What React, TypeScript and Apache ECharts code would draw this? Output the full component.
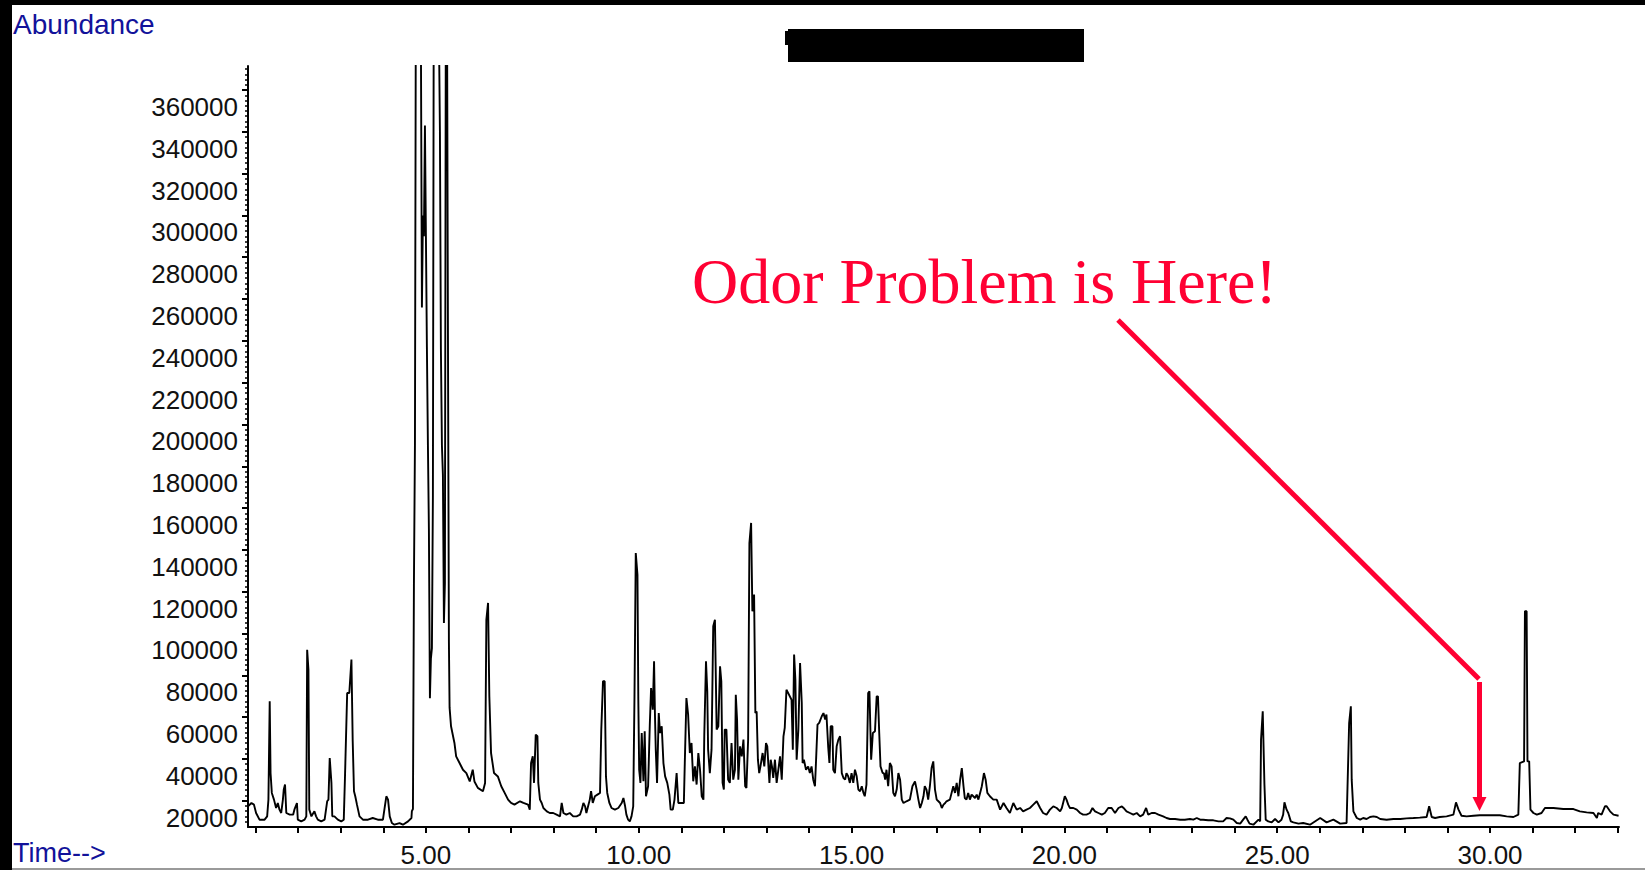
import React, { useEffect, useRef } from "react";
import * as echarts from "echarts";

// ---- Axis description ----
const timeMin = 0.82;
const timeMax = 33.03;
const abundanceMin = 7400;
const abundanceMax = 371500;
const xTickMinutes = [1, 2, 3, 4, 5, 6, 7, 8, 9, 10, 11, 12, 13, 14, 15, 16, 17, 18, 19, 20, 21, 22, 23, 24, 25, 26, 27, 28, 29, 30, 31, 32, 33];
const xLabelMinutes = [5, 10, 15, 20, 25, 30];
const yLabelValues = [20000, 40000, 60000, 80000, 100000, 120000, 140000, 160000, 180000, 200000, 220000, 240000, 260000, 280000, 300000, 320000, 340000, 360000];

// ---- Chromatogram trace, [retention time (min), abundance] ----
const traceEarly: [number, number][] = [
  [0.82, 17300], [0.9, 18900], [0.96, 18100], [1.01, 14100], [1.09, 10900], [1.21, 10900], [1.27, 12500], [1.3, 20500],
  [1.33, 67500], [1.35, 33200], [1.38, 23700], [1.43, 20500], [1.48, 16500], [1.52, 18900], [1.56, 15700], [1.6, 14100],
  [1.64, 20500], [1.66, 25300], [1.69, 27700], [1.72, 14100], [1.8, 13300], [1.88, 13300], [1.91, 15700], [1.97, 18900],
  [1.99, 10900], [2.07, 10100], [2.15, 10900], [2.19, 12500], [2.21, 92200], [2.24, 82700], [2.26, 15700], [2.31, 12500],
  [2.38, 14900], [2.42, 12500], [2.46, 10900], [2.54, 10100], [2.62, 10900], [2.68, 19700], [2.71, 20500], [2.74, 40400],
  [2.78, 28500], [2.8, 12500], [2.85, 12500], [2.93, 10900], [3.01, 10100], [3.07, 10900], [3.1, 32400], [3.15, 71500],
  [3.2, 71500], [3.25, 87500], [3.28, 48400], [3.31, 24500], [3.34, 22100], [3.38, 18100], [3.44, 12500], [3.52, 10900],
  [3.64, 10900], [3.75, 11700], [3.87, 10900], [3.99, 10900], [4.03, 16500], [4.07, 22100], [4.11, 20500], [4.15, 12500],
  [4.2, 9300], [4.26, 8500], [4.38, 9300], [4.46, 8500], [4.58, 10100], [4.66, 11700],
];

const traceSolvent: [number, number][] = [
  [4.67, 15000], [4.695, 16000], [4.718, 122600], [4.742, 190000], [4.765, 420000], [4.789, 480000], [4.812, 500000],
  [4.836, 470000], [4.859, 420000], [4.883, 380000], [4.906, 256000], [4.93, 300000], [4.953, 290000], [4.977, 343000],
  [5.0, 290000], [5.023, 237000], [5.047, 190000], [5.07, 150000], [5.094, 69000], [5.117, 88000], [5.141, 93000],
  [5.164, 166000], [5.188, 450000], [5.211, 520000], [5.235, 500000], [5.258, 470000], [5.282, 430000], [5.305, 390000],
  [5.329, 340000], [5.352, 236000], [5.376, 190000], [5.399, 176000], [5.423, 105000], [5.446, 124000], [5.47, 430000],
  [5.493, 420000], [5.517, 247000], [5.529, 169000], [5.54, 96000], [5.556, 64500],
  [5.59, 55600], [5.67, 47600], [5.71, 41200], [5.79, 38000], [5.87, 34800], [5.95, 33200], [6.03, 29200], [6.08, 33200],
  [6.1, 34800], [6.14, 29200], [6.22, 26100], [6.34, 24500], [6.39, 28500], [6.42, 106600], [6.46, 114600], [6.49, 69900],
  [6.53, 42800], [6.6, 33200], [6.69, 31600], [6.77, 26900], [6.85, 23700], [6.93, 20500], [7.0, 18900], [7.08, 18100],
];

const traceMiddle: [number, number][] = [
  [7.21, 19700], [7.29, 18900], [7.4, 18100], [7.44, 15700], [7.47, 38000], [7.51, 41200], [7.54, 28500], [7.58, 51600],
  [7.62, 50800], [7.64, 28500], [7.68, 20500], [7.72, 18900], [7.76, 16500], [7.84, 14900], [7.91, 14100], [7.99, 14100],
  [8.07, 13300], [8.15, 12500], [8.19, 18900], [8.23, 14100], [8.3, 13300], [8.38, 14100], [8.46, 12500], [8.54, 12500],
  [8.62, 13300], [8.66, 15700], [8.7, 18900], [8.74, 17300], [8.77, 14100], [8.81, 17300], [8.85, 20500], [8.88, 24500],
  [8.92, 18900], [8.97, 22100], [9.03, 22900], [9.09, 23700], [9.12, 54000], [9.16, 77100], [9.2, 77100], [9.23, 31600],
  [9.26, 23700], [9.31, 18900], [9.36, 16500], [9.44, 15700], [9.52, 16500], [9.6, 18900], [9.64, 21300], [9.68, 17300],
  [9.71, 13300], [9.75, 10900], [9.79, 10100], [9.83, 12500], [9.87, 17300], [9.9, 69900], [9.93, 138500], [9.97, 128100],
  [9.99, 68300], [10.01, 34800], [10.04, 28500], [10.07, 52400], [10.11, 29250], [10.14, 53200], [10.17, 22100], [10.22, 26900],
  [10.26, 56400], [10.29, 73900], [10.33, 63500], [10.36, 86700], [10.38, 61900], [10.4, 44400], [10.43, 28500], [10.47, 61900],
  [10.5, 52400], [10.54, 55600], [10.58, 38000], [10.62, 31600], [10.67, 28500], [10.72, 22900], [10.75, 15700], [10.8, 15700],
  [10.84, 20500], [10.89, 33200], [10.93, 18900], [10.98, 18900], [11.06, 18900], [11.08, 36400], [11.12, 69100], [11.16, 61200],
  [11.2, 42800], [11.24, 47600], [11.28, 29250], [11.32, 36400], [11.36, 27700], [11.4, 42800], [11.44, 34800], [11.48, 22100],
  [11.52, 20500], [11.54, 51600], [11.58, 86700], [11.61, 72300], [11.63, 44400], [11.67, 33200], [11.71, 44400], [11.75, 103400],
  [11.79, 106600], [11.83, 54000], [11.87, 55600], [11.91, 84300], [11.94, 77100], [11.97, 28500], [12.0, 25300], [12.02, 54000],
  [12.06, 54000], [12.1, 30050], [12.14, 28500], [12.18, 47600], [12.22, 30050], [12.26, 34800], [12.28, 70700], [12.31, 58800],
  [12.34, 30050], [12.38, 46000], [12.42, 41200], [12.46, 49200], [12.5, 26900], [12.53, 26100], [12.57, 49200], [12.6, 143300],
  [12.64, 152900], [12.67, 110600], [12.71, 118600], [12.74, 61900], [12.77, 62700], [12.8, 39600], [12.83, 33200], [12.86, 36400],
  [12.91, 42800], [12.95, 36400], [12.99, 47600], [13.02, 46000], [13.07, 28500], [13.1, 39600], [13.13, 36400], [13.16, 30850],
  [13.2, 39600], [13.24, 28500], [13.28, 34800], [13.32, 41200], [13.36, 30050], [13.4, 50800], [13.43, 54800], [13.47, 73100],
  [13.59, 68300], [13.62, 44400], [13.65, 89900], [13.68, 77900], [13.71, 39600], [13.75, 54000], [13.79, 85900], [13.83, 66700],
  [13.85, 38000], [13.88, 39600], [13.93, 34800], [13.98, 36400], [14.02, 33200], [14.06, 36400], [14.1, 30050], [14.14, 26900],
  [14.16, 36400], [14.2, 56400], [14.24, 57200], [14.3, 60400], [14.34, 61900], [14.38, 58800], [14.41, 61200], [14.45, 46000],
  [14.48, 38000], [14.51, 55600], [14.55, 55600], [14.57, 34800], [14.61, 33200], [14.65, 46000], [14.69, 49200], [14.73, 50800],
  [14.77, 33200], [14.81, 30850], [14.85, 30050], [14.88, 33200], [14.92, 31650], [14.96, 28500], [15.0, 33200], [15.04, 28500],
  [15.08, 34800], [15.12, 31650], [15.16, 25300], [15.2, 24500], [15.24, 26900], [15.28, 23700], [15.31, 22100], [15.35, 27700],
  [15.39, 71500], [15.42, 72300], [15.46, 39600], [15.5, 52400], [15.55, 53200], [15.59, 69900], [15.62, 69900], [15.65, 52400],
  [15.68, 36400], [15.73, 33200], [15.76, 33200], [15.79, 30050], [15.82, 34800], [15.86, 26900], [15.9, 38000], [15.94, 36400],
  [15.98, 23700], [16.02, 22100], [16.06, 25300], [16.1, 33200], [16.14, 30050], [16.18, 20500], [16.22, 18900], [16.29, 19700],
  [16.37, 20500], [16.43, 26900], [16.49, 29250], [16.53, 25300], [16.57, 20500], [16.61, 16500], [16.65, 18900], [16.69, 22100],
  [16.72, 26900], [16.76, 25300], [16.8, 20500], [16.84, 26900], [16.88, 35600], [16.92, 38800], [16.96, 25300], [17.0, 20500],
  [17.04, 19700], [17.08, 18900], [17.12, 16500], [17.16, 18100], [17.2, 18900], [17.23, 19700], [17.31, 20500], [17.39, 26900],
  [17.43, 23700], [17.47, 28500], [17.51, 22100], [17.55, 30050], [17.59, 35600], [17.63, 26900], [17.66, 21300], [17.7, 20500],
  [17.74, 23700], [17.78, 20500], [17.82, 22900], [17.86, 22100], [17.9, 21300], [17.94, 22900], [17.98, 20500], [18.02, 23700],
  [18.06, 26900], [18.11, 33200], [18.15, 30050], [18.19, 23700], [18.25, 22100], [18.33, 20500], [18.41, 20500], [18.49, 15700],
  [18.57, 18900], [18.64, 16500], [18.72, 14100], [18.8, 18900], [18.88, 15700], [18.96, 16500], [19.03, 14900], [19.11, 15700],
  [19.19, 16500], [19.27, 18100], [19.35, 19700], [19.43, 16500], [19.5, 14100], [19.58, 13300], [19.66, 15700], [19.74, 17300],
  [19.82, 16500], [19.9, 14900],
];

const traceLate: [number, number][] = [
  [19.94, 16500], [19.97, 18900], [20.01, 22100], [20.05, 20500], [20.09, 18100], [20.13, 16500], [20.21, 16500], [20.29, 15700],
  [20.37, 14100], [20.44, 13300], [20.52, 13300], [20.6, 14100], [20.66, 16500], [20.72, 14900], [20.8, 14100], [20.88, 13300],
  [20.95, 14100], [21.03, 16500], [21.11, 16500], [21.19, 14100], [21.27, 16500], [21.35, 17300], [21.39, 16500], [21.46, 14900],
  [21.54, 14100], [21.62, 13300], [21.7, 14100], [21.78, 12500], [21.85, 13300], [21.92, 16500], [21.97, 13300], [22.05, 14100],
  [22.13, 14100], [22.21, 13300], [22.32, 12500], [22.4, 11700], [22.48, 11230], [22.6, 11230], [22.72, 10900], [22.83, 10900],
  [22.95, 11230], [23.03, 10900], [23.11, 11700], [23.19, 10900], [23.26, 10900], [23.38, 10600], [23.5, 10600], [23.62, 10110],
  [23.73, 10110], [23.81, 11700], [23.89, 11550], [23.97, 10900], [24.05, 9300], [24.13, 9000], [24.2, 10900], [24.26, 12500],
  [24.3, 10900], [24.35, 9000], [24.44, 8500], [24.56, 10900], [24.6, 10100], [24.62, 49200], [24.66, 62750], [24.7, 27650],
  [24.73, 10900], [24.79, 10100], [24.87, 9630], [24.95, 11230], [25.03, 9630], [25.1, 10900], [25.14, 13300], [25.17, 19200],
  [25.22, 15700], [25.26, 14100], [25.32, 10100], [25.38, 9630], [25.5, 9000],
  [25.61, 9300], [25.77, 8500], [26.01, 11700], [26.16, 9630], [26.32, 10900], [26.48, 9000], [26.63, 9300], [26.69, 57150],
  [26.73, 65150], [26.75, 30050], [26.79, 14900], [26.87, 11700], [26.95, 10900], [27.02, 11700], [27.1, 11230], [27.18, 12190],
  [27.26, 12500], [27.34, 12190], [27.42, 11230], [27.57, 10900], [27.73, 11230], [27.89, 11230], [28.04, 11550], [28.2, 11700],
  [28.35, 11870], [28.51, 12190], [28.57, 17300], [28.63, 12190], [28.71, 11700], [28.82, 12190], [28.98, 12500], [29.14, 13300],
  [29.2, 19200], [29.26, 15700], [29.33, 12800], [29.45, 12500], [29.61, 12800], [29.76, 13000], [29.92, 13000], [30.08, 13000],
  [30.23, 13000], [30.39, 12500], [30.55, 12190], [30.665, 13300], [30.7, 38000], [30.74, 38340], [30.8, 38800], [30.82, 110600],
  [30.86, 110600], [30.88, 38800], [30.92, 38800], [30.95, 15700], [31.02, 14100], [31.1, 13300], [31.21, 14100], [31.29, 16500],
  [31.49, 16500], [31.72, 16000], [31.96, 16000], [32.11, 14900], [32.27, 14400], [32.43, 14100], [32.51, 11700], [32.54, 14100],
  [32.62, 13300], [32.7, 17300], [32.74, 17300], [32.82, 14900], [32.9, 13300], [33.02, 12800],
];

// ---- Annotation texts ----
const yAxisTitle = "Abundance";
const xAxisTitle = "Time-->";
const annotationText = "Odor Problem is Here!";

const RED = "#FF0033";
const BLUE = "#12129A";

export default function App() {
  const ref = useRef<HTMLDivElement>(null);

  useEffect(() => {
    if (!ref.current) return;
    const chart = echarts.init(ref.current, undefined, { renderer: "svg" });

    const trace = [...traceEarly, ...traceSolvent, ...traceMiddle, ...traceLate];
    const yMinorValues: number[] = [];
    for (let v = 10000; v <= 370000; v += 2500) {
      if (v % 20000 !== 0) yMinorValues.push(v);
    }

    const labelFont = { fontFamily: "'Liberation Sans', Arial, sans-serif", fontSize: 26, color: "#111" };

    chart.setOption({
      animation: false,
      backgroundColor: "#ffffff",
      grid: { left: 248, top: 66, right: 26, bottom: 43, containLabel: false, outerBoundsMode: "none" },
      xAxis: {
        type: "value",
        min: timeMin,
        max: timeMax,
        axisLine: { show: true, onZero: false, lineStyle: { color: "#000", width: 2 } },
        axisTick: { show: true, customValues: xTickMinutes, length: 6, lineStyle: { color: "#000", width: 2 } },
        axisLabel: {
          ...labelFont,
          customValues: xLabelMinutes,
          formatter: (v: number) => v.toFixed(2),
          margin: 15,
          lineHeight: 26,
        },
        splitLine: { show: false },
      },
      yAxis: [
        {
          type: "value",
          min: abundanceMin,
          max: abundanceMax,
          position: "left",
          axisLine: { show: true, onZero: false, lineStyle: { color: "#000", width: 2 } },
          axisTick: { show: true, customValues: yLabelValues, length: 6, lineStyle: { color: "#000", width: 2 } },
          axisLabel: {
            ...labelFont,
            customValues: yLabelValues,
            formatter: (v: number) => String(Math.round(v)),
            margin: 10,
            verticalAlign: "top",
            lineHeight: 34,
          },
          splitLine: { show: false },
        },
        {
          type: "value",
          min: abundanceMin,
          max: abundanceMax,
          position: "left",
          offset: 0,
          axisLine: { show: false },
          axisTick: { show: true, customValues: yMinorValues, length: 3, lineStyle: { color: "#000", width: 1.5 } },
          axisLabel: { show: false },
          splitLine: { show: false },
        },
      ],
      series: [
        {
          type: "line",
          data: trace,
          yAxisIndex: 0,
          showSymbol: false,
          symbol: "none",
          clip: true,
          silent: true,
          lineStyle: { color: "#000", width: 1.9 },
          z: 3,
        },
      ],
      graphic: [
        { type: "rect", z: 100, shape: { x: 0, y: 0, width: 1645, height: 5 }, style: { fill: "#000" } },
        { type: "rect", z: 100, shape: { x: 0, y: 0, width: 12, height: 870 }, style: { fill: "#000" } },
        { type: "rect", z: 100, shape: { x: 12, y: 868, width: 1633, height: 2 }, style: { fill: "#9a9a9a" } },
        { type: "rect", z: 100, shape: { x: 788, y: 29, width: 296, height: 33 }, style: { fill: "#000" } },
        { type: "rect", z: 100, shape: { x: 785, y: 31, width: 5, height: 14 }, style: { fill: "#000" } },
        {
          type: "text", z: 100, x: 13, y: 24,
          style: { text: yAxisTitle, fill: BLUE, fontFamily: "'Liberation Sans', Arial, sans-serif", fontSize: 28, verticalAlign: "middle", align: "left" },
        },
        {
          type: "text", z: 100, x: 13, y: 853,
          style: { text: xAxisTitle, fill: BLUE, fontFamily: "'Liberation Sans', Arial, sans-serif", fontSize: 27, verticalAlign: "middle", align: "left" },
        },
        {
          type: "text", z: 100, x: 692, y: 281,
          style: { text: annotationText, fill: RED, fontFamily: "'Liberation Serif', 'Times New Roman', serif", fontSize: 64, verticalAlign: "middle", align: "left" },
        },
        {
          type: "line", z: 100,
          shape: { x1: 1118, y1: 320, x2: 1479, y2: 679 },
          style: { stroke: RED, lineWidth: 5 },
        },
        {
          type: "line", z: 100,
          shape: { x1: 1479.5, y1: 682, x2: 1479.5, y2: 799 },
          style: { stroke: RED, lineWidth: 5 },
        },
        {
          type: "polygon", z: 100,
          shape: { points: [[1472.5, 797], [1486.5, 797], [1479.5, 811]] },
          style: { fill: RED },
        },
      ],
    });

    return () => chart.dispose();
  }, []);

  return (
    <div
      ref={ref}
      style={{ position: "fixed", left: 0, top: 0, width: 1645, height: 870, background: "#fff" }}
    />
  );
}
